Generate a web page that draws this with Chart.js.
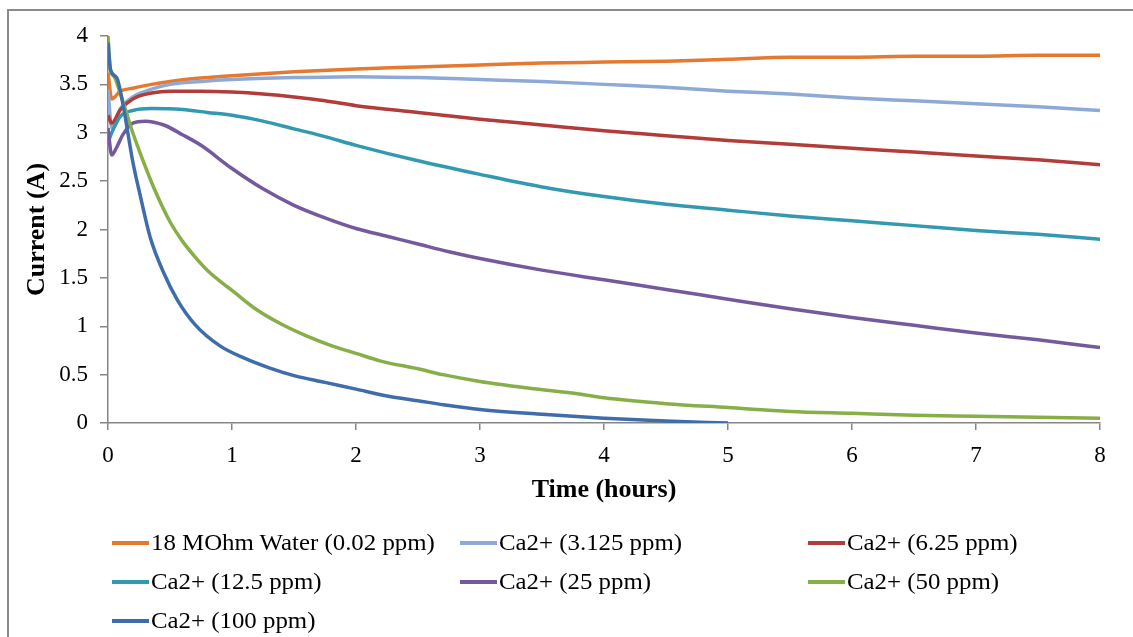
<!DOCTYPE html>
<html>
<head>
<meta charset="utf-8">
<script src="https://cdn.jsdelivr.net/npm/chart.js@4"></script>
<style>
  html, body { margin: 0; padding: 0; background: #fff; }
  #wrap { position: relative; width: 1133px; height: 637px; overflow: hidden; }
  #frame { position: absolute; left: 7px; top: 9px; width: 1140px; height: 640px;
           border: 2px solid #8a8a8a; box-sizing: border-box; }
  canvas { position: absolute; left: 0; top: 0; }
  .item { position: absolute; height: 30px; display: flex; align-items: center;
          font-family: 'Liberation Serif', 'Times New Roman', serif; font-size: 23px; color: #000;
          white-space: nowrap; }
  .swatch { display: inline-block; width: 37px; height: 4px; margin-right: 2px; }
  .txt { display: inline-block; transform: scaleX(1.08); transform-origin: left center; }
</style>
</head>
<body>
<div id="wrap">
  <div id="frame"></div>
  <canvas id="chart" width="1133" height="637"></canvas>
  <div id="legend"></div>
</div>
<script>
// Current vs. time for purified water and Ca2+ solutions of increasing concentration
const seriesLabels = [
  '18 MOhm Water (0.02 ppm)',
  'Ca2+ (3.125 ppm)',
  'Ca2+ (6.25 ppm)',
  'Ca2+ (12.5 ppm)',
  'Ca2+ (25 ppm)',
  'Ca2+ (50 ppm)',
  'Ca2+ (100 ppm)'
];
const seriesColors = ['#E4792F', '#8DA9D6', '#B13C39', '#3399B0', '#74599D', '#88AE47', '#3E6DAA'];

// time (hours) and current (A) for each run
const waterT = [0, 0.03, 0.1, 0.2, 0.35, 0.5, 0.7, 1, 1.5, 2, 2.5, 3, 3.5, 4, 4.5, 5, 5.5, 6, 6.5, 7, 7.5, 8];
const waterI = [3.62, 3.35, 3.43, 3.46, 3.5, 3.53, 3.56, 3.59, 3.63, 3.66, 3.68, 3.70, 3.72, 3.73, 3.74, 3.76, 3.78, 3.78, 3.79, 3.79, 3.8, 3.8];

const ca3T = [0, 0.03, 0.1, 0.2, 0.35, 0.5, 0.75, 1, 1.5, 2, 2.5, 3, 3.5, 4, 4.5, 5, 5.5, 6, 6.5, 7, 7.5, 8];
const ca3I = [3.45, 3.05, 3.25, 3.37, 3.45, 3.5, 3.53, 3.55, 3.57, 3.58, 3.57, 3.55, 3.53, 3.5, 3.47, 3.43, 3.4, 3.36, 3.33, 3.3, 3.27, 3.23];

const ca6T = [0, 0.03, 0.1, 0.2, 0.35, 0.5, 0.75, 1, 1.25, 1.5, 1.75, 2, 2.5, 3, 3.5, 4, 4.5, 5, 5.5, 6, 6.5, 7, 7.5, 8];
const ca6I = [3.18, 3.1, 3.24, 3.35, 3.41, 3.43, 3.43, 3.42, 3.4, 3.37, 3.33, 3.28, 3.21, 3.14, 3.08, 3.02, 2.97, 2.92, 2.88, 2.84, 2.8, 2.76, 2.72, 2.67];

const ca12T = [0, 0.03, 0.1, 0.2, 0.35, 0.6, 0.8, 1, 1.25, 1.5, 1.75, 2, 2.5, 3, 3.5, 4, 4.5, 5, 5.5, 6, 6.5, 7, 7.5, 8];
const ca12I = [2.9, 3.0, 3.17, 3.23, 3.25, 3.24, 3.21, 3.18, 3.12, 3.04, 2.96, 2.87, 2.71, 2.57, 2.44, 2.34, 2.26, 2.2, 2.14, 2.09, 2.04, 1.99, 1.95, 1.9];

const ca25T = [0, 0.03, 0.07, 0.12, 0.2, 0.3, 0.45, 0.6, 0.75, 1, 1.25, 1.5, 1.75, 2, 2.25, 2.5, 2.75, 3, 3.5, 4, 4.5, 5, 5.5, 6, 6.5, 7, 7.5, 8];
const ca25I = [3.05, 2.77, 2.85, 2.98, 3.1, 3.12, 3.08, 2.98, 2.87, 2.63, 2.42, 2.25, 2.12, 2.01, 1.93, 1.85, 1.77, 1.7, 1.58, 1.48, 1.38, 1.28, 1.18, 1.09, 1.01, 0.93, 0.86, 0.78];

const ca50T = [0, 0.02, 0.05, 0.1, 0.15, 0.2, 0.28, 0.38, 0.5, 0.6, 0.7, 0.8, 0.9, 1, 1.2, 1.4, 1.6, 1.8, 2, 2.2, 2.5, 2.7, 3, 3.4, 3.8, 4, 4.5, 5, 5.5, 6, 6.5, 7, 7.5, 8];
const ca50I = [4.0, 3.65, 3.58, 3.4, 3.2, 3.0, 2.72, 2.4, 2.08, 1.88, 1.72, 1.58, 1.47, 1.37, 1.17, 1.02, 0.9, 0.8, 0.72, 0.64, 0.56, 0.5, 0.43, 0.36, 0.3, 0.26, 0.2, 0.16, 0.12, 0.1, 0.08, 0.07, 0.06, 0.05];

const ca100T = [0, 0.02, 0.07, 0.12, 0.16, 0.2, 0.26, 0.34, 0.45, 0.56, 0.7, 0.9, 1.1, 1.3, 1.5, 1.75, 2, 2.25, 2.5, 2.75, 3, 3.5, 4, 4.5, 5];
const ca100I = [3.93, 3.65, 3.57, 3.3, 3.0, 2.7, 2.35, 1.92, 1.55, 1.27, 1.02, 0.8, 0.67, 0.57, 0.49, 0.42, 0.35, 0.28, 0.23, 0.18, 0.14, 0.09, 0.05, 0.02, 0.0];

const seriesTimes = [waterT, ca3T, ca6T, ca12T, ca25T, ca50T, ca100T];
const seriesCurrents = [waterI, ca3I, ca6I, ca12I, ca25I, ca50I, ca100I];

const yTickMin = 0, yTickMax = 4, yTickStep = 0.5;
const xTickMin = 0, xTickMax = 8, xTickStep = 1;

const serif = "'Liberation Serif', 'Times New Roman', serif";
const axisGray = '#868686';

const datasets = seriesLabels.map((label, i) => ({
  label,
  data: seriesTimes[i].map((t, k) => ({ x: t, y: seriesCurrents[i][k] })),
  borderColor: seriesColors[i],
  backgroundColor: seriesColors[i],
  borderWidth: 3.5,
  pointRadius: 0,
  fill: false,
  cubicInterpolationMode: 'monotone',
  order: seriesLabels.length - 1 - i
}));

new Chart(document.getElementById('chart'), {
  type: 'line',
  data: { datasets },
  options: {
    responsive: false,
    animation: false,
    events: [],
    layout: { padding: { left: 0, top: 36, right: 33, bottom: 114 } },
    plugins: { legend: { display: false }, tooltip: { enabled: false } },
    scales: {
      x: {
        type: 'linear',
        min: xTickMin, max: xTickMax,
        ticks: { stepSize: xTickStep, color: '#000', padding: 12, font: { family: serif, size: 23 },
                 callback: (v) => String(v) },
        grid: { drawOnChartArea: false, color: axisGray, tickLength: 7, lineWidth: 1.5 },
        border: { color: axisGray, width: 1.5 },
        title: { display: true, text: 'Time (hours)', color: '#000',
                 font: { family: serif, size: 26, weight: 'bold' }, padding: { top: 0, bottom: 17 } },
        afterFit: (s) => { s.height = 100; }
      },
      y: {
        type: 'linear',
        min: yTickMin, max: yTickMax,
        ticks: { stepSize: yTickStep, color: '#000', padding: 12, font: { family: serif, size: 23 },
                 callback: (v) => String(v) },
        grid: { drawOnChartArea: false, color: axisGray, tickLength: 8, lineWidth: 1.5 },
        border: { color: axisGray, width: 1.5 },
        title: { display: true, text: 'Current (A)', color: '#000',
                 font: { family: serif, size: 26, weight: 'bold' }, padding: { top: 22, bottom: 0 } },
        afterFit: (s) => { s.width = 108; }
      }
    }
  }
});

// Legend in three columns below the plot
const legendCols = [112, 460, 808];
const legendRows = [543, 582, 621];
const legendEl = document.getElementById('legend');
seriesLabels.forEach((label, i) => {
  const item = document.createElement('div');
  item.className = 'item';
  item.style.left = legendCols[i % 3] + 'px';
  item.style.top = (legendRows[Math.floor(i / 3)] - 15) + 'px';
  const sw = document.createElement('span');
  sw.className = 'swatch';
  sw.style.background = seriesColors[i];
  const tx = document.createElement('span');
  tx.className = 'txt';
  tx.textContent = label;
  item.appendChild(sw);
  item.appendChild(tx);
  legendEl.appendChild(item);
});
</script>
</body>
</html>
